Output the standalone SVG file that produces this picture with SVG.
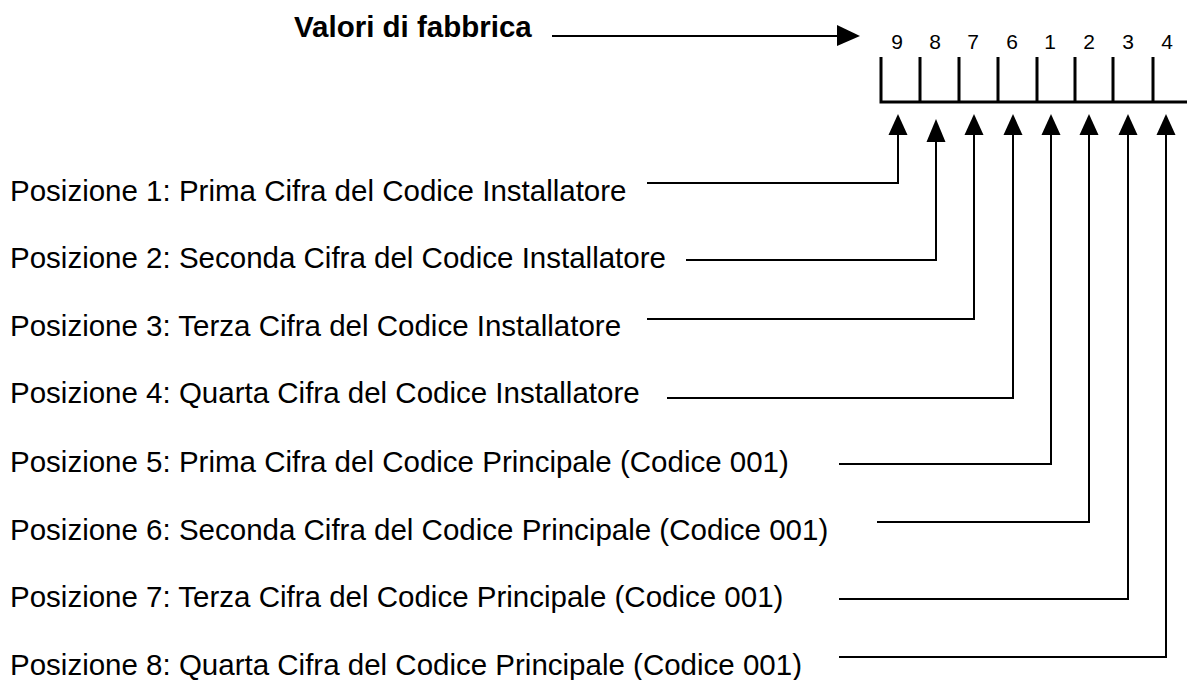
<svg xmlns="http://www.w3.org/2000/svg" width="1187" height="680" viewBox="0 0 1187 680">
<style>
.lbl{font-family:"Liberation Sans",Arial,sans-serif;font-size:29.5px;fill:#000}
.ttl{font-family:"Liberation Sans",Arial,sans-serif;font-size:29.5px;font-weight:bold;fill:#000}
.dig{font-family:"Liberation Sans",Arial,sans-serif;font-size:21px;fill:#000;text-anchor:middle}
.box{stroke:#000;stroke-width:3;fill:none}
.con{stroke:#000;stroke-width:2;fill:none}
.ah{fill:#000}
</style>
<rect width="1187" height="680" fill="#fff"/>
<g id="title">
<text class="ttl" x="294" y="37">Valori di fabbrica</text>
</g>
<g id="register">
<path class="box" d="M881,57V102M920,57V102M959,57V102M998,57V102M1037,57V102M1075,57V102M1113,57V102M1153,57V102M879.5,102H1187"/>
<text class="dig" x="897" y="49">9</text>
<text class="dig" x="935" y="49">8</text>
<text class="dig" x="973" y="49">7</text>
<text class="dig" x="1012" y="49">6</text>
<text class="dig" x="1050" y="49">1</text>
<text class="dig" x="1089" y="49">2</text>
<text class="dig" x="1128" y="49">3</text>
<text class="dig" x="1167" y="49">4</text>
</g>
<g id="pos1"><text class="lbl" x="10" y="201">Posizione 1: Prima Cifra del Codice Installatore</text></g>
<g id="pos2"><text class="lbl" x="10" y="268">Posizione 2: Seconda Cifra del Codice Installatore</text></g>
<g id="pos3"><text class="lbl" x="10" y="336">Posizione 3: Terza Cifra del Codice Installatore</text></g>
<g id="pos4"><text class="lbl" x="10" y="403">Posizione 4: Quarta Cifra del Codice Installatore</text></g>
<g id="pos5"><text class="lbl" x="10" y="472">Posizione 5: Prima Cifra del Codice Principale (Codice 001)</text></g>
<g id="pos6"><text class="lbl" x="10" y="540">Posizione 6: Seconda Cifra del Codice Principale (Codice 001)</text></g>
<g id="pos7"><text class="lbl" x="10" y="607">Posizione 7: Terza Cifra del Codice Principale (Codice 001)</text></g>
<g id="pos8"><text class="lbl" x="10" y="675">Posizione 8: Quarta Cifra del Codice Principale (Codice 001)</text></g>
<g id="connectors">
<path class="con" d="M552,36H840"/>
<polygon class="ah" points="837,25 860,36 837,46"/>
<path class="con" d="M647,183H898V133"/>
<polygon class="ah" points="888.5,135 898,114 907.5,135"/>
<path class="con" d="M686,260H936V140"/>
<polygon class="ah" points="926.5,142 936,119 945.5,142"/>
<path class="con" d="M647,319H974V133"/>
<polygon class="ah" points="964.5,135 974,114 983.5,135"/>
<path class="con" d="M667,398H1013V133"/>
<polygon class="ah" points="1003.5,135 1013,114 1022.5,135"/>
<path class="con" d="M839,464H1051V133"/>
<polygon class="ah" points="1041.5,135 1051,114 1060.5,135"/>
<path class="con" d="M877,522H1089V133"/>
<polygon class="ah" points="1079.5,135 1089,114 1098.5,135"/>
<path class="con" d="M839,599H1128V133"/>
<polygon class="ah" points="1118.5,135 1128,114 1137.5,135"/>
<path class="con" d="M839,657H1166V133"/>
<polygon class="ah" points="1156.5,135 1166,114 1175.5,135"/>
</g>
</svg>
